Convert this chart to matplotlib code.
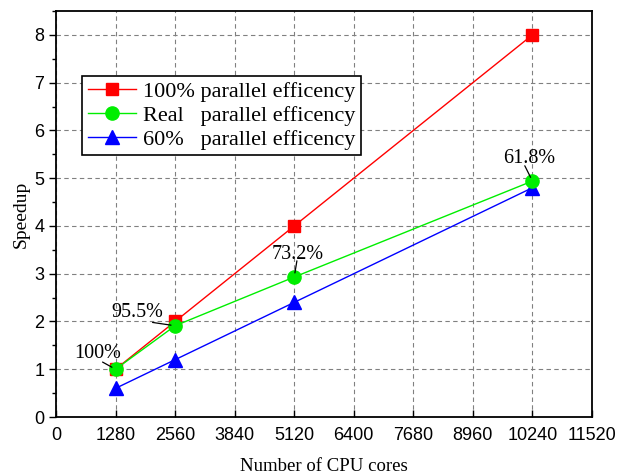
import matplotlib
matplotlib.use("Agg")
import matplotlib.pyplot as plt
from matplotlib.ticker import MultipleLocator

# data
cores = [1280, 2560, 5120, 10240]
ideal = [1, 2, 4, 8]
real = [1, 1.91, 2.93, 4.94]
sixty = [0.6, 1.2, 2.4, 4.8]
eff_labels = ["100%", "95.5%", "73.2%", "61.8%"]

serif = ["Liberation Serif", "DejaVu Serif"]
sans = ["Liberation Sans", "DejaVu Sans"]

fig = plt.figure(figsize=(6.2, 4.75), dpi=100)
ax = fig.add_axes([56 / 620, 58 / 475, 536 / 620, 406 / 475])

ax.plot(cores, ideal, color="red", marker="s", markersize=8, lw=1,
        label="100% parallel efficency", zorder=3)
ax.plot(cores, real, color="#00ee00", marker="o", markersize=9.5, lw=1,
        label="Real   parallel efficency", zorder=4)
ax.plot(cores, sixty, color="blue", marker="^", markersize=10, lw=1,
        label="60%   parallel efficency", zorder=3)

# efficiency labels with short leader lines
offsets = [(-380, 0.13), (-820, 0.07), (80, 0.28), (-75, 0.28)]
relpos = [(0.6, 0.05), (0.8, 0.0), (0.48, 0.15), (0.42, 0.1)]
for x, y, t, (dx, dy), rp in zip(cores, real, eff_labels, offsets, relpos):
    ax.annotate(t, xy=(x, y), xytext=(x + dx, y + dy), ha="center", va="bottom",
                fontsize=14.5, family=serif, zorder=5,
                arrowprops=dict(arrowstyle="-", color="black", lw=0.9,
                                shrinkA=0, shrinkB=3, relpos=rp, patchA=None))

ax.set_xlim(0, 11520)
ax.set_ylim(0, 8.5)
ax.set_xticks(range(0, 11521, 1280))
ax.yaxis.set_major_locator(MultipleLocator(1))
ax.yaxis.set_minor_locator(MultipleLocator(0.5))
ax.grid(True, color="gray", ls=(0, (4, 3)), lw=0.8)
ax.tick_params(axis="y", direction="out", length=5, width=1, labelsize=13)
ax.tick_params(axis="y", which="minor", direction="out", length=3, width=1)
ax.tick_params(axis="x", direction="in", length=5, width=1, labelsize=13, pad=7)
for lab in ax.get_xticklabels() + ax.get_yticklabels():
    lab.set_family(sans)
for s in ax.spines.values():
    s.set_linewidth(1.3)

ax.set_xlabel("Number of CPU cores", fontsize=13.5, family=serif, labelpad=10)
ax.set_ylabel("Speedup", fontsize=14, family=serif, labelpad=3)

leg = ax.legend(loc="upper left", bbox_to_anchor=(0.0485, 0.84), fancybox=False,
                framealpha=1, edgecolor="black", prop={"family": serif, "size": 16},
                handlelength=2.2, borderpad=0.25, labelspacing=0.15, handletextpad=0.3,
                borderaxespad=0)
leg.get_frame().set_linewidth(1.2)

fig.savefig("out.png", dpi=100)
